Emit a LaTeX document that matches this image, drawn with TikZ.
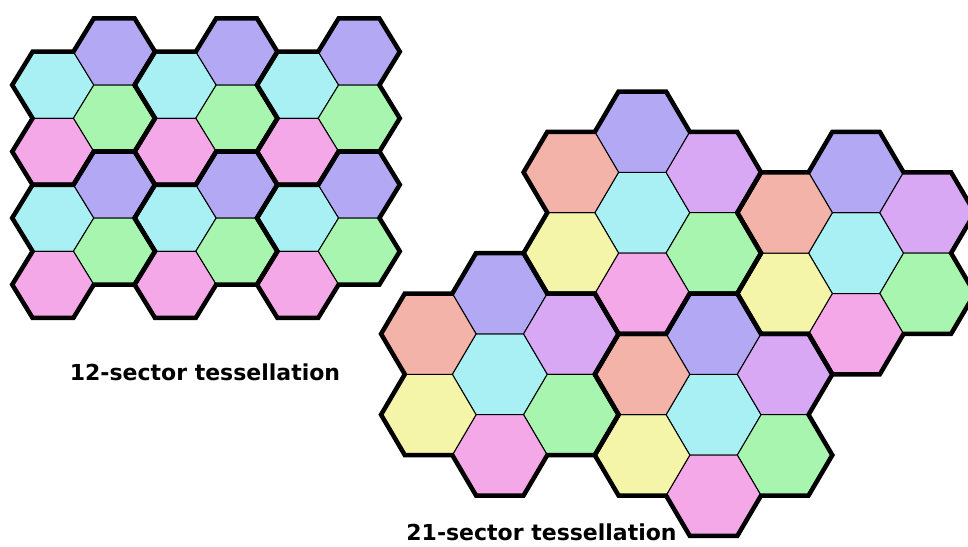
\documentclass[tikz,border=0pt]{standalone}
\usepackage{fontspec}
\setmainfont{DejaVu Sans}
\definecolor{cPur}{HTML}{B3A8F3}
\definecolor{cCya}{HTML}{A8F0F3}
\definecolor{cGre}{HTML}{A8F5B0}
\definecolor{cPin}{HTML}{F4A8E8}
\definecolor{cSal}{HTML}{F4B3A8}
\definecolor{cLav}{HTML}{D8A8F5}
\definecolor{cYel}{HTML}{F4F5A8}
\begin{document}
\begin{tikzpicture}[x=1pt,y=-1pt,
  thinedge/.style={draw=black,line width=1pt},
  outline/.style={draw=black,line width=4.5pt,line join=miter},
  caption/.style={font=\bfseries\fontsize{22}{26}\selectfont,anchor=base,inner sep=0pt}]
\useasboundingbox (0,0) rectangle (968,546);
% ---------- 12-sector tessellation ----------
\def\ha{40.8}\def\hb{33.3}
\foreach \cx/\cy in {53/85,175.4/85,297.8/85,53/218,175.4/218,297.8/218}{
  \begin{scope}[shift={(\cx,\cy)}]
    \foreach \dx/\dy/\cc in {0/0/cCya,1.5/-1/cPur,1.5/1/cGre,0/2/cPin}{
      \path[thinedge,fill=\cc,shift={(\dx*\ha,\dy*\hb)}]
        (-\ha,0)--(-\ha/2,-\hb)--(\ha/2,-\hb)--(\ha,0)--(\ha/2,\hb)--(-\ha/2,\hb)--cycle;
    }
  \end{scope}
}
\foreach \cx/\cy in {53/85,175.4/85,297.8/85,53/218,175.4/218,297.8/218}{
  \begin{scope}[shift={(\cx,\cy)}]
    \draw[outline] (-\ha/2,-\hb)--(\ha/2,-\hb)--(\ha,-2*\hb)--(2*\ha,-2*\hb)--(2.5*\ha,-\hb)
      --(2*\ha,0)--(2.5*\ha,\hb)--(2*\ha,2*\hb)--(\ha,2*\hb)--(\ha/2,3*\hb)--(-\ha/2,3*\hb)
      --(-\ha,2*\hb)--(-\ha/2,\hb)--(-\ha,0)--cycle;
  \end{scope}
}
\node[caption] (t12) at (205,380.5) {12-sector tessellation};
% ---------- 21-sector tessellation ----------
\def\ha{47.5}\def\hb{40.4}
\foreach \cx/\cy in {642.3/212.7,856.05/253.1,499.8/374.3,713.55/414.7}{
  \begin{scope}[shift={(\cx,\cy)}]
    \foreach \dx/\dy/\cc in {0/0/cCya,0/-2/cPur,1.5/-1/cLav,1.5/1/cGre,0/2/cPin,-1.5/1/cYel,-1.5/-1/cSal}{
      \path[thinedge,fill=\cc,shift={(\dx*\ha,\dy*\hb)}]
        (-\ha,0)--(-\ha/2,-\hb)--(\ha/2,-\hb)--(\ha,0)--(\ha/2,\hb)--(-\ha/2,\hb)--cycle;
    }
  \end{scope}
}
\foreach \cx/\cy in {642.3/212.7,856.05/253.1,499.8/374.3,713.55/414.7}{
  \begin{scope}[shift={(\cx,\cy)}]
    \draw[outline] (-\ha/2,-3*\hb)--(\ha/2,-3*\hb)--(\ha,-2*\hb)--(2*\ha,-2*\hb)--(2.5*\ha,-\hb)
      --(2*\ha,0)--(2.5*\ha,\hb)--(2*\ha,2*\hb)--(\ha,2*\hb)--(\ha/2,3*\hb)--(-\ha/2,3*\hb)
      --(-\ha,2*\hb)--(-2*\ha,2*\hb)--(-2.5*\ha,\hb)--(-2*\ha,0)--(-2.5*\ha,-\hb)
      --(-2*\ha,-2*\hb)--(-\ha,-2*\hb)--cycle;
  \end{scope}
}
\node[caption] (t21) at (541.5,540) {21-sector tessellation};
\end{tikzpicture}
\end{document}
